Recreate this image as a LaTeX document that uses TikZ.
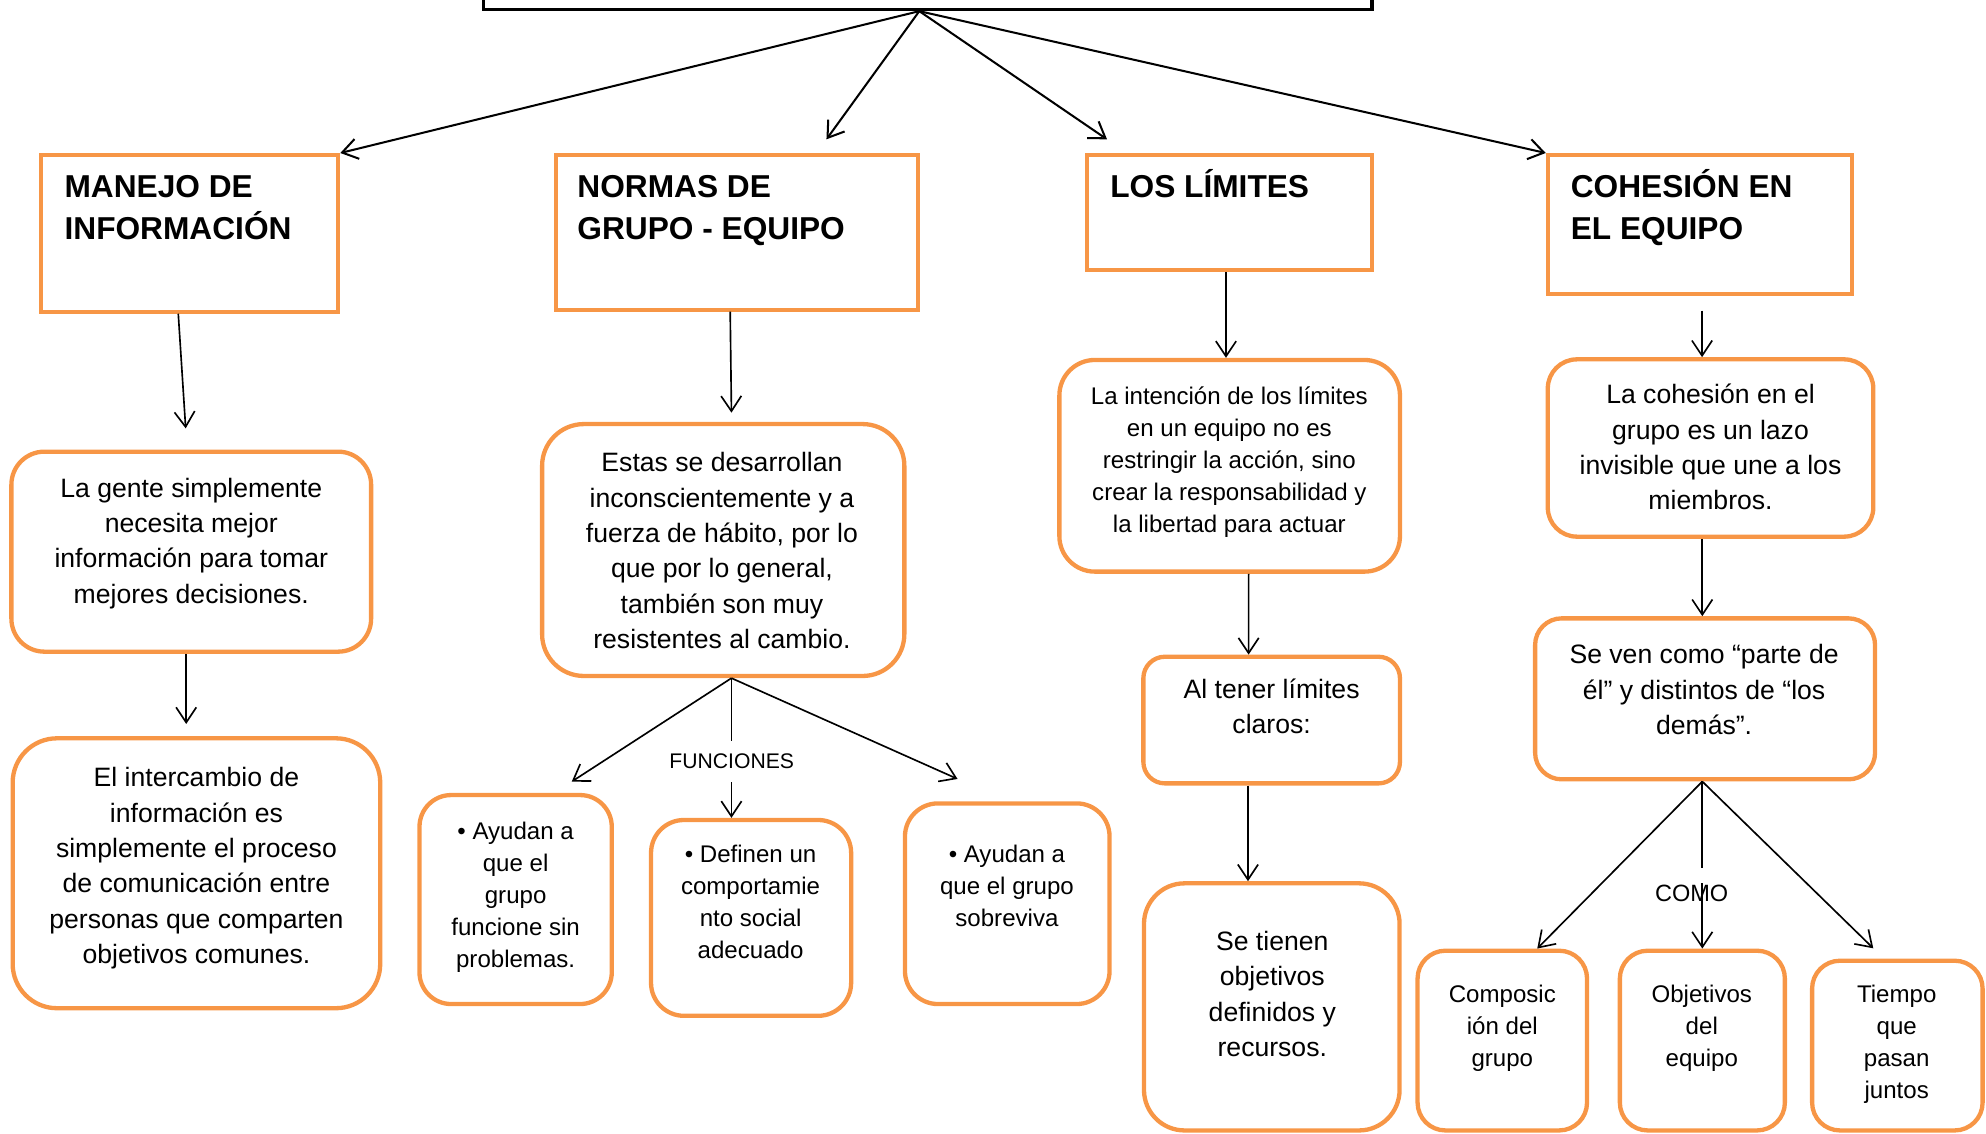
\documentclass[tikz,border=0pt]{standalone}
\usepackage{fontspec}
\setmainfont{Liberation Sans}
\usepackage{tikz}
\usetikzlibrary{arrows.meta,positioning}
\definecolor{naranja}{HTML}{F79646}
\tikzset{>={Straight Barb[length=12pt,width=16pt]}}

\begin{document}
\begin{tikzpicture}[x=1pt, y=-1pt,
                          tema/.style={draw=black, line width=2.8pt, inner sep=0pt},
                          titulo/.style={draw=naranja, line width=3.2pt, inner sep=0pt},
                          caja/.style={draw=naranja, line width=3.4pt, rounded corners=#1, inner sep=0pt},
                          rotulo/.style={font=\fontsize{25}{33.4}\selectfont\bfseries, align=left, anchor=base west, inner sep=0pt},
                          texto/.style={font=\fontsize{21}{27.9}\selectfont, align=center, anchor=base, inner sep=0pt},
                          textochico/.style={font=\fontsize{19}{25.2}\selectfont, align=center, anchor=base, inner sep=0pt},
                          flecha/.style={->, line width=1.3pt},
                          flechagruesa/.style={->, line width=1.6pt},
                          linea/.style={line width=1.3pt},
                         ]

\useasboundingbox (0,0) rectangle (1568,895);

% tema (cut off at the top)
\node[tema, minimum width=701.4pt, minimum height=60pt] (tema) at (732.3,-22.6) {};
\coordinate (raiz) at ([xshift=-6.5pt]tema.south);

% titulos (texts placed by the baseline of their last line)
\node[titulo, minimum width=234.7pt, minimum height=123.7pt] (manejo) at (149.75,184.25) {};
\node[rotulo] (manejo-t) at (50.8,189.4) {MANEJO DE\\INFORMACIÓN};
\node[titulo, minimum width=286.2pt, minimum height=122pt] (normas) at (581.9,183.4) {};
\node[rotulo] (normas-t) at (455.7,189.4) {NORMAS DE\\GRUPO - EQUIPO};
\node[titulo, minimum width=225.2pt, minimum height=90.8pt] (limites) at (970.6,167.8) {};
\node[rotulo] (limites-t) at (876.4,156) {LOS LÍMITES};
\node[titulo, minimum width=240pt, minimum height=110pt] (cohesion) at (1342,177.4) {};
\node[rotulo] (cohesion-t) at (1240,189.4) {COHESIÓN EN\\EL EQUIPO};

\coordinate (fin-normas) at (652.5,110);
\coordinate (fin-limites) at (874,110);
\draw[flechagruesa] (raiz) -- (manejo.north east);
\draw[flechagruesa] (raiz) -- (fin-normas);
\draw[flechagruesa] (raiz) -- (fin-limites);
\draw[flechagruesa] (raiz) -- (cohesion.north west);

% manejo de informacion
\node[caja=26pt, minimum width=284pt, minimum height=157.9pt] (info1) at (151,435.55) {};
\node[texto] (info1-t) at (151,476.1) {La gente simplemente\\necesita mejor\\información para tomar\\mejores decisiones.};
\node[caja=35pt, minimum width=290.2pt, minimum height=213.1pt] (info2) at (155.1,689.45) {};
\node[texto] (info2-t) at (155.1,760.8) {El intercambio de\\información es\\simplemente el proceso\\de comunicación entre\\personas que comparten\\objetivos comunes.};

\coordinate (fin-info1) at (146.6,338.2);
\coordinate (fin-info2) at (147,571.6);
\draw[flecha] ([xshift=-9pt]manejo.south) -- (fin-info1);
\draw[flecha] ([xshift=-4pt]info1.south) -- (fin-info2);

% normas de grupo
\node[caja=33pt, minimum width=286pt, minimum height=198.9pt] (normas1) at (571,434.25) {};
\node[texto] (normas1-t) at (570,512.1) {Estas se desarrollan\\inconscientemente y a\\fuerza de hábito, por lo\\que por lo general,\\también son muy\\resistentes al cambio.};
\node[caja=25pt, minimum width=151.8pt, minimum height=165pt] (fun1) at (407.1,710.2) {};
\node[textochico] (fun1-t) at (407.1,763.8) {• Ayudan a\\que el\\grupo\\funcione sin\\problemas.};
\node[caja=26pt, minimum width=158pt, minimum height=154.6pt] (fun2) at (593,724.7) {};
\node[textochico] (fun2-t) at (592.6,756.9) {• Definen un\\comportamie\\nto social\\adecuado};
\node[caja=26pt, minimum width=161.5pt, minimum height=158.4pt] (fun3) at (795.25,713.5) {};
\node[textochico] (fun3-t) at (795,731.7) {• Ayudan a\\que el grupo\\sobreviva};
\node[font=\fontsize{16.7}{16.7}\selectfont, inner sep=10pt] (funciones) at (577.7,601.3) {FUNCIONES};

\coordinate (fin-normas1) at (577.5,325.8);
\draw[flecha] ([xshift=-5.4pt]normas.south) -- (fin-normas1);
\coordinate (ap-normas) at ([xshift=6.5pt]normas1.south);
\coordinate (fin-fun1) at (451.4,617.1);
\coordinate (fin-fun3) at (756,615);
\draw[flecha] (ap-normas) -- (fin-fun1);
\draw[flecha] (ap-normas) -- (fin-fun3);
\draw[linea] (ap-normas) -- (ap-normas |- funciones.north);
\draw[flecha] (ap-normas |- funciones.south) -- (ap-normas |- fun2.north);

% limites
\node[caja=28pt, minimum width=268.9pt, minimum height=167.1pt] (lim1) at (970.85,367.75) {};
\node[textochico] (lim1-t) at (970.6,420.2) {La intención de los límites\\en un equipo no es\\restringir la acción, sino\\crear la responsabilidad y\\la libertad para actuar};
\node[caja=17pt, minimum width=202.6pt, minimum height=100pt] (lim2) at (1004,568.5) {};
\node[texto] (lim2-t) at (1004,579.5) {Al tener límites\\claros:};
\node[caja=32pt, minimum width=201.8pt, minimum height=195.1pt] (lim3) at (1004.1,794.95) {};
\node[texto] (lim3-t) at (1004.5,834) {Se tienen\\objetivos\\definidos y\\recursos.};

\draw[flecha] ([xshift=-2.6pt]limites.south) -- ([xshift=-2.9pt]lim1.north);
\draw[flecha] ([xshift=15pt]lim1.south) -- ([xshift=-18.2pt]lim2.north);
\draw[flecha] ([xshift=-18.7pt]lim2.south) -- ([xshift=-18.8pt]lim3.north);

% cohesion
\node[caja=23pt, minimum width=257pt, minimum height=140pt] (coh1) at (1350.5,353.7) {};
\node[texto] (coh1-t) at (1350.5,402.4) {La cohesión en el\\grupo es un lazo\\invisible que une a los\\miembros.};
\node[caja=21pt, minimum width=268.4pt, minimum height=127.1pt] (coh2) at (1346.2,551.75) {};
\node[texto] (coh2-t) at (1345.4,579.8) {Se ven como “parte de\\él” y distintos de “los\\demás”.};
\node[caja=22pt, minimum width=133.8pt, minimum height=141.9pt] (comp) at (1186.1,821.55) {};
\node[textochico] (comp-t) at (1186.1,842.2) {Composic\\ión del\\grupo};
\node[caja=22pt, minimum width=130.3pt, minimum height=141.9pt] (obj) at (1344.05,821.55) {};
\node[textochico] (obj-t) at (1343.6,842.2) {Objetivos\\del\\equipo};
\node[caja=22pt, minimum width=134.6pt, minimum height=134pt] (tiempo) at (1498,825.5) {};
\node[textochico] (tiempo-t) at (1497.5,866.9) {Tiempo\\que\\pasan\\juntos};
\node[font=\fontsize{18.6}{18.6}\selectfont, inner sep=13pt] (como) at (1335.6,705.3) {COMO};

\coordinate (ini-coh1) at (1343.8,245.3);
\draw[flecha] (ini-coh1) -- ([xshift=-6.7pt]coh1.north);
\draw[flecha] ([xshift=-6.5pt]coh1.south) -- ([xshift=-2.2pt]coh2.north);
\coordinate (ap-coh) at ([xshift=-2.2pt]coh2.south);
\coordinate (fin-tiempo) at (1479,748.7);
\coordinate (ini-obj) at (1344,697.4);
\draw[flecha] (ap-coh) -- ([xshift=27.6pt]comp.north);
\draw[flecha] (ap-coh) -- (fin-tiempo);
\draw[linea] (ap-coh) -- (ap-coh |- como.north);
\draw[flecha] (ini-obj) -- (ini-obj |- obj.north);

\end{tikzpicture}
\end{document}
